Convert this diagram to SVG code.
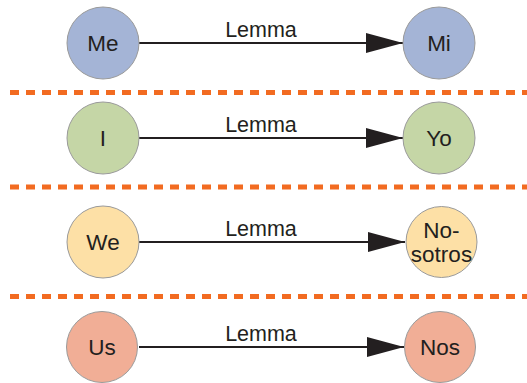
<svg xmlns="http://www.w3.org/2000/svg" width="527" height="383" viewBox="0 0 527 383">
<style>
.n{stroke:#9a9a9a;stroke-width:1}
.t{font-family:"Liberation Sans",Arial,sans-serif;font-size:22.5px;fill:#231f20;text-anchor:middle}
.l{font-family:"Liberation Sans",Arial,sans-serif;font-size:21.5px;fill:#231f20;text-anchor:middle}
.c{stroke:#231f20;stroke-width:2;fill:none}
.d{stroke:#f26b21;stroke-width:5;stroke-dasharray:9 7;fill:none}
.blue{fill:#a4b4d6}.green{fill:#c5d6a6}.yellow{fill:#fde0a6}.red{fill:#f1ae96}
</style>
<defs>
<marker id="ah" markerWidth="38" markerHeight="20" refX="37" refY="10" orient="auto" markerUnits="userSpaceOnUse">
<path d="M0,0 L37,10 L0,20 Z" fill="#231f20"/>
</marker>
</defs>
<g id="separators">
<line class="d" x1="10" y1="92.5" x2="527" y2="92.5"/>
<line class="d" x1="10" y1="187" x2="527" y2="187"/>
<line class="d" x1="10" y1="296.5" x2="527" y2="296.5"/>
</g>
<g id="connectors">
<line class="c" x1="139" y1="43" x2="403" y2="43" marker-end="url(#ah)"/>
<text class="l" x="261" y="37">Lemma</text>
<line class="c" x1="139" y1="138" x2="403" y2="138" marker-end="url(#ah)"/>
<text class="l" x="261" y="132">Lemma</text>
<line class="c" x1="139" y1="242" x2="405" y2="242" marker-end="url(#ah)"/>
<text class="l" x="261" y="236">Lemma</text>
<line class="c" x1="139" y1="347" x2="404" y2="347" marker-end="url(#ah)"/>
<text class="l" x="261" y="341">Lemma</text>
</g>
<g id="Me"><circle class="n blue" cx="103" cy="43" r="36"/><text class="t" x="103" y="51">Me</text></g>
<g id="Mi"><circle class="n blue" cx="439" cy="43" r="36"/><text class="t" x="439" y="51">Mi</text></g>
<g id="I"><circle class="n green" cx="103" cy="138" r="36"/><text class="t" x="103" y="146">I</text></g>
<g id="Yo"><circle class="n green" cx="439" cy="138" r="36"/><text class="t" x="439" y="146">Yo</text></g>
<g id="We"><circle class="n yellow" cx="103" cy="242" r="36"/><text class="t" x="103" y="250">We</text></g>
<g id="Nosotros"><circle class="n yellow" cx="441.5" cy="242" r="35.5"/><text class="t" x="441.5" y="238">No-</text><text class="t" x="441.5" y="262">sotros</text></g>
<g id="Us"><circle class="n red" cx="102" cy="347" r="35.5"/><text class="t" x="102" y="355">Us</text></g>
<g id="Nos"><circle class="n red" cx="440" cy="347" r="35.5"/><text class="t" x="440" y="355">Nos</text></g>
</svg>
